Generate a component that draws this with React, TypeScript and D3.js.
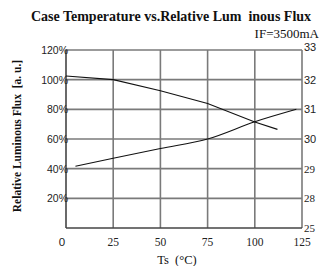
import React from 'react';
import * as d3 from 'd3';

// Luminous flux vs case temperature (left axis, %)
const fluxTemp = [0, 25, 50, 75, 100, 112];
const fluxValue = [102.5, 100, 92.5, 84, 71.5, 66.5];
// Forward voltage vs case temperature (right axis, V)
const voltTemp = [5, 25, 50, 75, 100, 122];
const voltValue = [29.08, 29.35, 29.68, 30.0, 30.58, 31.0];

const xTicks = [0, 25, 50, 75, 100, 125];
const leftTicks = [20, 40, 60, 80, 100, 120];
const rightTickLabels = ['25', '28', '29', '30', '31', '32', '33'];

const W = 332;
const H = 266;
const margin = { top: 50, right: 30, bottom: 38, left: 66 };

const App: React.FC = () => {
  const iw = W - margin.left - margin.right;
  const ih = H - margin.top - margin.bottom;
  const x = d3.scaleLinear().domain([0, 125]).range([0, iw]);
  const y = d3.scaleLinear().domain([0, 120]).range([ih, 0]);
  // voltage axis shares gridlines: 28 V at 20 %, 33 V at 120 %
  const yv = d3.scaleLinear().domain([28, 33]).range([y(20), y(120)]);
  const rightPos = [0, 20, 40, 60, 80, 100, 120];

  const fluxLine = d3.line<number>().x((_, i) => x(fluxTemp[i])).y(d => y(d))(fluxValue) || '';
  const voltLine = d3.line<number>().curve(d3.curveMonotoneX).x((_, i) => x(voltTemp[i])).y(d => yv(d))(voltValue) || '';

  const grid = '#7a7a7a';
  const serif = '"Liberation Serif", "Times New Roman", serif';
  const sans = '"Liberation Sans", Arial, sans-serif';

  return (
    <svg width={W} height={H} style={{ position: 'absolute', left: 0, top: 0, background: '#fff' }}>
      <text x={171} y={21} textAnchor="middle" fontFamily={serif} fontWeight="bold" fontSize={14} fill="#111">
        Case Temperature vs.Relative Lum{'\u00a0\u00a0'}inous Flux
      </text>
      <text x={319} y={38} textAnchor="end" fontFamily={serif} fontSize={13} fill="#111">IF=3500mA</text>
      <text transform={`translate(21,136) rotate(-90)`} textAnchor="middle"
        fontFamily={serif} fontWeight="bold" fontSize={11.5} fill="#111">
        Relative Luminous Flux{'\u00a0\u00a0'}[a. u.]
      </text>
      <g transform={`translate(${margin.left},${margin.top})`}>
        {xTicks.slice(1).map(t => (
          <line key={'vx' + t} x1={x(t)} x2={x(t)} y1={0} y2={ih} stroke={grid} strokeWidth={1.6} />
        ))}
        {leftTicks.map(t => (
          <line key={'hy' + t} x1={0} x2={iw} y1={y(t)} y2={y(t)} stroke={grid} strokeWidth={1.6} />
        ))}
        <line x1={0} x2={0} y1={0} y2={ih} stroke="#444" strokeWidth={1.6} />
        <line x1={0} x2={iw} y1={ih} y2={ih} stroke="#444" strokeWidth={1.6} />
        <path d={fluxLine} fill="none" stroke="#111" strokeWidth={1.1} />
        <path d={voltLine} fill="none" stroke="#111" strokeWidth={1.1} />
        {leftTicks.map(t => (
          <text key={'ly' + t} x={2} y={y(t) + 4} textAnchor="end" fontFamily={sans} fontSize={10.5} fill="#222">
            {t}%
          </text>
        ))}
        {rightTickLabels.map((l, i) => (
          <text key={'ry' + l} x={iw + 2} y={y(rightPos[i]) + (i === 6 ? 1 : 4)} fontFamily={i < 3 ? serif : sans}
            fontSize={11} fill="#222">
            {l}
          </text>
        ))}
        {xTicks.map(t => (
          <text key={'xt' + t} x={t === 0 ? x(t) - 4 : x(t)} y={ih + 18} textAnchor="middle"
            fontFamily={t === 0 ? sans : serif} fontSize={11.5} fill="#222">
            {t}
          </text>
        ))}
      </g>
      <text x={177} y={264} textAnchor="middle" fontFamily={serif} fontSize={12.5} fill="#111">
        Ts{'\u00a0\u00a0'}(°C)
      </text>
    </svg>
  );
};

export default App;
